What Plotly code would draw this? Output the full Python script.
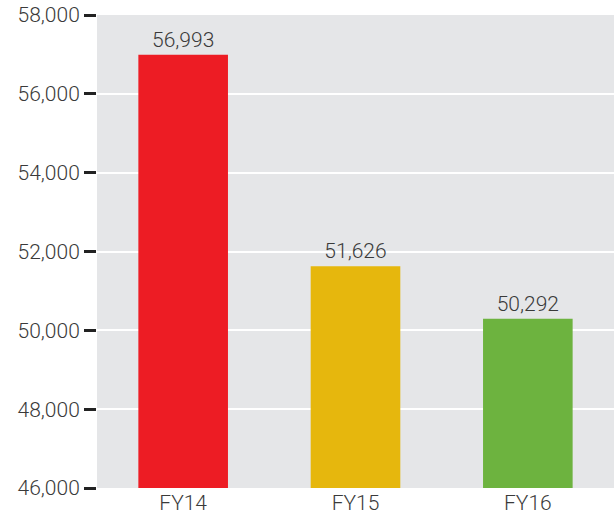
import plotly.graph_objects as go

categories = ["FY14", "FY15", "FY16"]
values = [56993, 51626, 50292]
labels = ["56,993", "51,626", "50,292"]
colors = ["#ed1c24", "#e6b70d", "#6db33f"]
tick_vals = [46000, 48000, 50000, 52000, 54000, 56000, 58000]
tick_text = ["46,000", "48,000", "50,000", "52,000", "54,000", "56,000", "58,000"]

FONT = "Roboto"
TXT = "#3a3a3a"

fig = go.Figure(go.Bar(
    x=categories, y=values, marker_color=colors, marker_line_width=0,
    text=labels, textposition="outside", cliponaxis=False,
    textfont=dict(size=21, color=TXT, family=FONT, weight=300),
))
fig.update_layout(
    width=614, height=514,
    margin=dict(l=97, r=0, t=15, b=26),
    paper_bgcolor="white", plot_bgcolor="#e5e6e8",
    bargap=0.48, showlegend=False,
    font=dict(family=FONT, size=21, color=TXT, weight=300),
)
fig.update_xaxes(showgrid=False, ticks="", automargin=False,
                 tickfont=dict(size=21, color=TXT, family=FONT, weight=300))
fig.update_yaxes(
    range=[46000, 58000], tickvals=tick_vals, ticktext=tick_text,
    showgrid=True, gridcolor="white", gridwidth=2, automargin=False,
    ticks="outside", ticklen=12, tickwidth=3, tickcolor="#222",
    tickfont=dict(size=21, color=TXT, family=FONT, weight=300), zeroline=False,
)
fig.write_html("out.html", config={"displayModeBar": False},
               post_script="document.body.style.margin='0';document.body.style.overflow='hidden';")
